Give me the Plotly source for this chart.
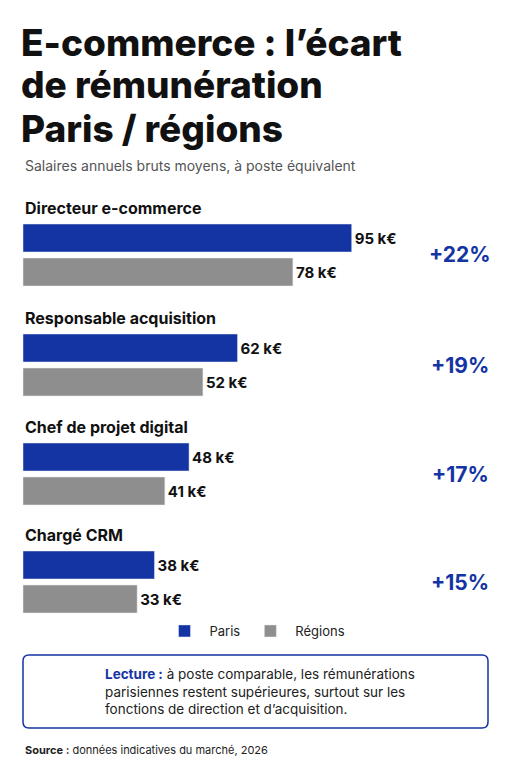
import plotly.graph_objects as go

categories = ["Directeur e-commerce", "Responsable acquisition", "Chef de projet digital", "Chargé CRM"]
paris = [95, 62, 48, 38]
regions = [78, 52, 41, 33]
ecarts = ["+22%", "+19%", "+17%", "+15%"]

W, H = 511, 768
OFF = 8  # page body margin
BLUE = "#1434a4"
GRAY = "#8e8e8e"
scale = 3.46  # px per k€
x0 = 23 - OFF
xr = [-x0 / scale, (W - x0) / scale]

group_top = [208, 318, 427, 535]
paris_y = [g + 30 - OFF for g in group_top]
reg_y = [g + 64 - OFF for g in group_top]

fig = go.Figure()
fig.add_trace(go.Bar(orientation="h", x=paris, y=paris_y, width=28, marker_color=BLUE, name="Paris",
                     text=[f"{v} k€" for v in paris], textposition="outside",
                     textfont=dict(size=15, color="#111", family="Inter", weight=700), cliponaxis=False))
fig.add_trace(go.Bar(orientation="h", x=regions, y=reg_y, width=28, marker_color=GRAY, name="Régions",
                     text=[f"{v} k€" for v in regions], textposition="outside",
                     textfont=dict(size=15, color="#111", family="Inter", weight=700), cliponaxis=False))

def px(x): return (x - OFF) / W
def py(y): return 1 - (y - OFF) / H

ann = []
for i, t in enumerate(["E-commerce : l’écart", "de rémunération", "Paris / régions"]):
    ann.append(dict(text=t, x=px(19), y=py(42 + i * 43), xref="paper", yref="paper", xanchor="left", yanchor="middle",
                    showarrow=False, font=dict(size=37, family="Inter", weight=800, color="#111")))
ann.append(dict(text="Salaires annuels bruts moyens, à poste équivalent", x=px(23), y=py(165), xref="paper", yref="paper",
                xanchor="left", yanchor="middle", showarrow=False, font=dict(size=14, family="Inter", color="#555")))
for i, c in enumerate(categories):
    ann.append(dict(text=c, x=px(23), y=py(group_top[i]), xref="paper", yref="paper", xanchor="left", yanchor="middle",
                    showarrow=False, font=dict(size=16, family="Inter", weight=700, color="#111")))
    ann.append(dict(text=ecarts[i], x=px(460), y=py(group_top[i] + 47), xref="paper", yref="paper", xanchor="center",
                    yanchor="middle", showarrow=False, font=dict(size=21, family="Inter", weight=700, color=BLUE)))
ann.append(dict(text="<b style='color:#1434a4'>Lecture :</b> à poste comparable, les rémunérations<br>parisiennes restent supérieures, surtout sur les<br>fonctions de direction et d’acquisition.",
                x=px(103), y=py(691), xref="paper", yref="paper", xanchor="left", yanchor="middle", align="left",
                showarrow=False, font=dict(size=13.5, family="Inter", color="#222")))
ann.append(dict(text="<b>Source :</b> données indicatives du marché, 2026", x=px(23), y=py(750), xref="paper", yref="paper",
                xanchor="left", yanchor="middle", showarrow=False, font=dict(size=11, family="Inter", color="#222")))

shapes = [dict(type="path", xref="paper", yref="paper",
               path=f"M {px(29)},{py(655)} L {px(482)},{py(655)} Q {px(488)},{py(655)} {px(488)},{py(661)} L {px(488)},{py(722)} Q {px(488)},{py(728)} {px(482)},{py(728)} L {px(29)},{py(728)} Q {px(23)},{py(728)} {px(23)},{py(722)} L {px(23)},{py(661)} Q {px(23)},{py(655)} {px(29)},{py(655)} Z",
               line=dict(color=BLUE, width=1.5), fillcolor="white")]

fig.update_layout(width=W, height=H, margin=dict(l=0, r=0, t=0, b=0), paper_bgcolor="white", plot_bgcolor="white",
                  barmode="overlay", showlegend=True,
                  legend=dict(orientation="h", x=px(255), xanchor="center", y=py(631), yanchor="middle",
                              font=dict(size=13, family="Inter", color="#222"), itemwidth=40, traceorder="normal"),
                  xaxis=dict(range=xr, visible=False, fixedrange=True),
                  yaxis=dict(range=[H, 0], visible=False, fixedrange=True),
                  annotations=ann, shapes=shapes)
fig.write_html("out.html")
